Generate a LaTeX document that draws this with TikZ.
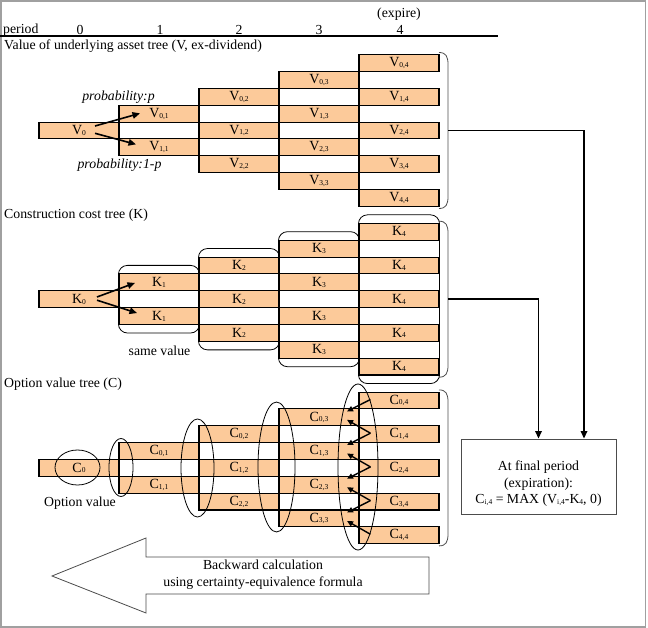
\documentclass[tikz,border=0pt]{standalone}
\usepackage{fontspec}
\setmainfont{Liberation Serif}
\usetikzlibrary{arrows.meta}
\definecolor{peach}{RGB}{252,202,154}
\definecolor{framegray}{RGB}{160,160,160}
\newcommand{\sbx}[1]{\raisebox{-0.8pt}{\fontsize{7.5}{8}\selectfont #1}}
\newcommand{\cellLabel}[3]{#1\sbx{\ifnum#3=0 0\else\if K#1{#3}\else{#2,#3}\fi\fi}}
\begin{document}
\begin{tikzpicture}[x=1pt,y=-1pt,
  txt/.style={font=\fontsize{13.8}{16.5}\selectfont, inner sep=0pt},
  itxt/.style={font=\fontsize{13.8}{16.5}\selectfont\itshape, inner sep=0pt},
  cell/.style={draw, fill=peach, line width=1.1pt, minimum width=80pt, minimum height=16.85pt, inner sep=0pt, font=\fontsize{14}{15}\selectfont},
  conn/.style={line width=1.6pt, -{Triangle[length=7.5pt,width=6.5pt]}},
  cconn/.style={line width=1.4pt, -{Triangle[length=6pt,width=5.5pt]}},
  thinline/.style={line width=0.8pt},
  brace/.style={line width=0.8pt, draw=black!70},
]
\useasboundingbox (0,0) rectangle (648,628);
\draw[framegray, line width=1.2pt] (1,1) rectangle (645.5,627);

% header
\node[txt, anchor=west] (hper) at (3,30) {period};
\foreach \k/\xx in {0/80,1/160,2/239,3/319,4/400}
  \node[txt] (h\k) at (\xx,30) {\k};
\node[txt] (hexp) at (399,14) {(expire)};
\draw[line width=1.2pt] (0,36) -- (498,36);

% section titles
\node[txt, anchor=west] (tV) at (4,46) {Value of underlying asset tree (V, ex-dividend)};
\node[txt, anchor=west] (tK) at (4,215) {Construction cost tree (K)};
\node[txt, anchor=west] (tC) at (4,384) {Option value tree (C)};

% trees
\foreach \T/\yc in {V/130.5,K/299.2,C/467.9}{
  \foreach \t in {0,...,4}{
    \foreach \i in {0,...,\t}{
      \pgfmathsetmacro{\xx}{79+80*\t}
      \pgfmathsetmacro{\yy}{\yc+(2*\i-\t)*16.85}
      \node[cell] (\T\i\t) at (\xx,\yy) {\cellLabel{\T}{\i}{\t}};
    }
  }
}

% braces on the right
\foreach \yc/\nm in {130.5/vb,299.2/kb,467.9/cb}{
  \draw[brace] (439,\yc-78) .. controls (446,\yc-78) and (448,\yc-74) .. (448,\yc-66)
     -- (448,\yc+66) .. controls (448,\yc+74) and (446,\yc+78) .. (439,\yc+78);
  \coordinate (\nm) at (448,\yc);
}

% V arrows and labels
\draw[conn] ([xshift=16pt,yshift=4.5pt]V00.center) -- ([xshift=-19pt,yshift=0.3pt]V01.center);
\draw[conn] ([xshift=16pt,yshift=-2.8pt]V00.center) -- ([xshift=-23pt,yshift=3pt]V11.center);
\node[itxt] (pp) at (118.5,97) {probability:p};
\node[itxt] (pq) at (119.5,165) {probability:1-p};

% K arrows, groups, label
\draw[conn] ([xshift=18pt,yshift=2.2pt]K00.center) -- ([xshift=-24pt,yshift=-0.6pt]K01.center);
\draw[conn] ([xshift=18pt,yshift=-1pt]K00.center) -- ([xshift=-22pt,yshift=3pt]K11.center);
\foreach \t in {1,...,4}
  \draw[thinline, rounded corners=9pt] ([yshift=8pt]K0\t.north west) rectangle ([yshift=-8pt]K\t\t.south east);
\node[txt] (sv) at (159.5,351) {same value};

% C ellipses, arrows, label
\draw[thinline] (77.5,467.5) ellipse [x radius=22.5pt, y radius=17.5pt];
\draw[thinline] (121,467.5) ellipse [x radius=12pt, y radius=29pt];
\draw[thinline] (197.5,468) ellipse [x radius=16.5pt, y radius=49pt];
\draw[thinline] (276.5,467) ellipse [x radius=18.5pt, y radius=65pt];
\draw[thinline] (358,467) ellipse [x radius=20pt, y radius=83pt];
\foreach \i in {0,...,3}
  \draw[cconn] ([xshift=12pt,yshift=1pt]C\i4.west) -- ([xshift=-12.5pt,yshift=6pt]C\i3.east);
\foreach \i [evaluate=\i as \j using int(\i-1)] in {1,...,4}
  \draw[cconn] ([xshift=12pt,yshift=1pt]C\i4.west) -- ([xshift=-12.5pt,yshift=-2.5pt]C\j3.east);
\node[txt] (ov) at (80,503) {Option value};

% final box
\node[draw=black!70, line width=0.9pt, minimum width=155pt, minimum height=75pt, inner sep=0pt] (fin) at (538.5,476.5) {};
\node[txt, align=center] (fintxt) at (538.5,484) {At final period\\(expiration):\\C\sbx{i,4} = MAX (V\sbx{i,4}-K\sbx{4}, 0)};
\draw[conn] (vb) -| ([xshift=45.5pt]fin.north);
\draw[conn] (kb) -| (fin.north);

% backward arrow
\draw[draw=black!70, line width=0.8pt, fill=white] (52,576) -- (146,538) -- (146,557) -- (429,557) -- (429,594) -- (146,594) -- (146,613) -- cycle;
\node[txt, align=center] (bk) at (263,574.5) {Backward calculation\\using certainty-equivalence formula};
\end{tikzpicture}
\end{document}
